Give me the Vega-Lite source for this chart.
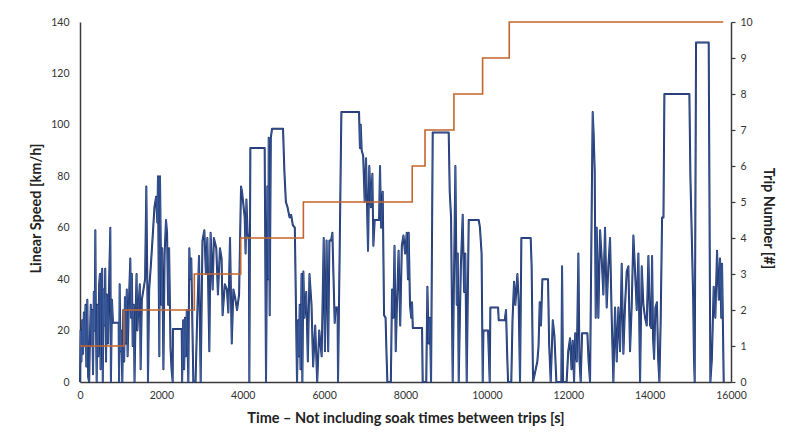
{
  "$schema": "https://vega.github.io/schema/vega-lite/v6.json",
  "width": 651,
  "height": 360,
  "autosize": {"type": "none"},
  "padding": {"left": 80, "top": 22, "right": 64, "bottom": 57},
  "background": "white",
  "config": {
    "view": {"stroke": null},
    "font": "Lato",
    "axis": {"grid": false, "labelFont": "Lato", "titleFont": "Lato", "labelColor": "#333333", "titleColor": "#222222", "domainColor": "#3a3a3a", "domainWidth": 1.5, "labelFontSize": 10.5, "titleFontSize": 14.5, "titleFontWeight": "bold"}
  },
  "datasets": {
    "speed": [
{"t":0,"v":0},{"t":15,"v":20},{"t":35,"v":8},{"t":55,"v":24},{"t":75,"v":11},{"t":95,"v":27},{"t":115,"v":14},{"t":135,"v":30},{"t":155,"v":6},{"t":180,"v":32},{"t":200,"v":2},{"t":225,"v":0},{"t":245,"v":18},{"t":265,"v":30},{"t":285,"v":14},{"t":300,"v":28},{"t":320,"v":3},{"t":340,"v":35},{"t":360,"v":20},{"t":377,"v":59},{"t":390,"v":25},{"t":410,"v":0},{"t":430,"v":30},{"t":450,"v":10},{"t":470,"v":38},{"t":490,"v":42},{"t":505,"v":5},{"t":520,"v":40},{"t":545,"v":44},{"t":560,"v":0},{"t":580,"v":36},{"t":600,"v":22},{"t":620,"v":44},{"t":640,"v":8},{"t":660,"v":34},{"t":690,"v":15},{"t":715,"v":38},{"t":745,"v":60},{"t":760,"v":0},{"t":785,"v":32},{"t":810,"v":23},{"t":950,"v":23},{"t":960,"v":0},{"t":975,"v":38},{"t":995,"v":12},{"t":1010,"v":20},{"t":1040,"v":0},{"t":1065,"v":28},{"t":1085,"v":8},{"t":1105,"v":33},{"t":1125,"v":15},{"t":1150,"v":36},{"t":1170,"v":10},{"t":1200,"v":30},{"t":1236,"v":48},{"t":1255,"v":25},{"t":1275,"v":42},{"t":1295,"v":14},{"t":1320,"v":30},{"t":1340,"v":0},{"t":1365,"v":25},{"t":1390,"v":42},{"t":1410,"v":20},{"t":1440,"v":30},{"t":1470,"v":38},{"t":1490,"v":5},{"t":1520,"v":32},{"t":1560,"v":36},{"t":1600,"v":40},{"t":1630,"v":76},{"t":1660,"v":30},{"t":1671,"v":0},{"t":1700,"v":36},{"t":1740,"v":45},{"t":1780,"v":55},{"t":1830,"v":68},{"t":1870,"v":72},{"t":1900,"v":62},{"t":1917,"v":80},{"t":1935,"v":40},{"t":1950,"v":10},{"t":1966,"v":80},{"t":1980,"v":60},{"t":2000,"v":30},{"t":2020,"v":52},{"t":2050,"v":5},{"t":2080,"v":50},{"t":2114,"v":63},{"t":2140,"v":58},{"t":2165,"v":30},{"t":2190,"v":52},{"t":2225,"v":13},{"t":2250,"v":5},{"t":2278,"v":0},{"t":2285,"v":20.6},{"t":2500,"v":20.6},{"t":2510,"v":0},{"t":2535,"v":24},{"t":2560,"v":5},{"t":2580,"v":25},{"t":2600,"v":10},{"t":2625,"v":28},{"t":2663,"v":0},{"t":2687,"v":52},{"t":2710,"v":40},{"t":2735,"v":48},{"t":2786,"v":0},{"t":2840,"v":0},{"t":2880,"v":25},{"t":2925,"v":49},{"t":2966,"v":0},{"t":3010,"v":55},{"t":3056,"v":59},{"t":3095,"v":42},{"t":3130,"v":56},{"t":3179,"v":12},{"t":3210,"v":58},{"t":3260,"v":36},{"t":3290,"v":56},{"t":3350,"v":52},{"t":3390,"v":34},{"t":3440,"v":52},{"t":3480,"v":48},{"t":3505,"v":26},{"t":3560,"v":38},{"t":3610,"v":36},{"t":3646,"v":27},{"t":3687,"v":56},{"t":3730,"v":15},{"t":3770,"v":36},{"t":3810,"v":33},{"t":3860,"v":28},{"t":3910,"v":34},{"t":3958,"v":76},{"t":3982,"v":74},{"t":4048,"v":64},{"t":4070,"v":50},{"t":4090,"v":71},{"t":4120,"v":58},{"t":4150,"v":55},{"t":4162,"v":0},{"t":4187,"v":91},{"t":4539,"v":91},{"t":4572,"v":0},{"t":4605,"v":76},{"t":4630,"v":40},{"t":4638,"v":95},{"t":4662,"v":26},{"t":4690,"v":95},{"t":4720,"v":98.5},{"t":4990,"v":98.5},{"t":5023,"v":82},{"t":5060,"v":70},{"t":5100,"v":68},{"t":5150,"v":64},{"t":5190,"v":65},{"t":5230,"v":61},{"t":5280,"v":60},{"t":5334,"v":0},{"t":5360,"v":24},{"t":5380,"v":10},{"t":5400,"v":30},{"t":5420,"v":5},{"t":5445,"v":42},{"t":5465,"v":0},{"t":5490,"v":43},{"t":5515,"v":25},{"t":5560,"v":35},{"t":5600,"v":8},{"t":5640,"v":42},{"t":5690,"v":30},{"t":5730,"v":6},{"t":5780,"v":22},{"t":5830,"v":0},{"t":5880,"v":20},{"t":5940,"v":10},{"t":5990,"v":56},{"t":6020,"v":12},{"t":6060,"v":55},{"t":6100,"v":12},{"t":6130,"v":55},{"t":6170,"v":55},{"t":6203,"v":58},{"t":6230,"v":41},{"t":6260,"v":23},{"t":6285,"v":29},{"t":6330,"v":29},{"t":6342,"v":0},{"t":6424,"v":105},{"t":6858,"v":105},{"t":6880,"v":91},{"t":6900,"v":100},{"t":6923,"v":90},{"t":6960,"v":88},{"t":6997,"v":70},{"t":7030,"v":87},{"t":7079,"v":51},{"t":7110,"v":84},{"t":7150,"v":68},{"t":7186,"v":81},{"t":7210,"v":53},{"t":7243,"v":63},{"t":7350,"v":63},{"t":7374,"v":84},{"t":7400,"v":60},{"t":7440,"v":74},{"t":7473,"v":26},{"t":7510,"v":25},{"t":7535,"v":10},{"t":7555,"v":0},{"t":7640,"v":0},{"t":7669,"v":36},{"t":7700,"v":25},{"t":7730,"v":53},{"t":7760,"v":12},{"t":7790,"v":30},{"t":7830,"v":51},{"t":7870,"v":22},{"t":7910,"v":53},{"t":7950,"v":57},{"t":7990,"v":50},{"t":8030,"v":58},{"t":8060,"v":40},{"t":8079,"v":58},{"t":8110,"v":30},{"t":8140,"v":25},{"t":8160,"v":31},{"t":8180,"v":21},{"t":8407,"v":21},{"t":8423,"v":0},{"t":8510,"v":0},{"t":8538,"v":37},{"t":8570,"v":15},{"t":8600,"v":25},{"t":8628,"v":0},{"t":8669,"v":97},{"t":9062,"v":97},{"t":9087,"v":74},{"t":9120,"v":64},{"t":9160,"v":0},{"t":9226,"v":84},{"t":9260,"v":30},{"t":9285,"v":50},{"t":9308,"v":0},{"t":9360,"v":45},{"t":9406,"v":65},{"t":9440,"v":35},{"t":9470,"v":50},{"t":9505,"v":0},{"t":9554,"v":63},{"t":9800,"v":63},{"t":9830,"v":60},{"t":9870,"v":50},{"t":9898,"v":0},{"t":9915,"v":20},{"t":10029,"v":20},{"t":10070,"v":0},{"t":10086,"v":29},{"t":10275,"v":29},{"t":10291,"v":24},{"t":10439,"v":24},{"t":10470,"v":28},{"t":10500,"v":10},{"t":10521,"v":0},{"t":10600,"v":0},{"t":10630,"v":24},{"t":10668,"v":39},{"t":10700,"v":30},{"t":10750,"v":42},{"t":10780,"v":32},{"t":10815,"v":0},{"t":10848,"v":56},{"t":11077,"v":56},{"t":11100,"v":45},{"t":11135,"v":0},{"t":11240,"v":8},{"t":11270,"v":14},{"t":11299,"v":31},{"t":11330,"v":22},{"t":11364,"v":40},{"t":11503,"v":40},{"t":11530,"v":15},{"t":11569,"v":0},{"t":11620,"v":24},{"t":11660,"v":18},{"t":11708,"v":0},{"t":11830,"v":0},{"t":11848,"v":45},{"t":11872,"v":0},{"t":11960,"v":0},{"t":12000,"v":12},{"t":12044,"v":17},{"t":12080,"v":5},{"t":12110,"v":16},{"t":12143,"v":0},{"t":12170,"v":19},{"t":12210,"v":8},{"t":12249,"v":50},{"t":12275,"v":9},{"t":12306,"v":0},{"t":12340,"v":19},{"t":12470,"v":19},{"t":12500,"v":8},{"t":12536,"v":0},{"t":12585,"v":82},{"t":12601,"v":105},{"t":12625,"v":96},{"t":12650,"v":82},{"t":12675,"v":25},{"t":12700,"v":60},{"t":12740,"v":25},{"t":12782,"v":59},{"t":12822,"v":48},{"t":12863,"v":34},{"t":12904,"v":60},{"t":12945,"v":29},{"t":12986,"v":45},{"t":13027,"v":56},{"t":13068,"v":25},{"t":13109,"v":0},{"t":13150,"v":29},{"t":13191,"v":8},{"t":13232,"v":29},{"t":13273,"v":12},{"t":13314,"v":46},{"t":13355,"v":11},{"t":13396,"v":30},{"t":13437,"v":43},{"t":13478,"v":45},{"t":13519,"v":12},{"t":13560,"v":30},{"t":13601,"v":57},{"t":13642,"v":43},{"t":13683,"v":28},{"t":13724,"v":50},{"t":13765,"v":0},{"t":13806,"v":45},{"t":13847,"v":30},{"t":13888,"v":25},{"t":13929,"v":22},{"t":13970,"v":49},{"t":14011,"v":22},{"t":14040,"v":21},{"t":14060,"v":49},{"t":14085,"v":17},{"t":14110,"v":9},{"t":14142,"v":29},{"t":14180,"v":31},{"t":14210,"v":9},{"t":14240,"v":0},{"t":14273,"v":25},{"t":14306,"v":64},{"t":14340,"v":64},{"t":14363,"v":112},{"t":14977,"v":112},{"t":15002,"v":80},{"t":15040,"v":54},{"t":15070,"v":33},{"t":15090,"v":9},{"t":15108,"v":0},{"t":15141,"v":132},{"t":15452,"v":132},{"t":15493,"v":0},{"t":15530,"v":9},{"t":15575,"v":37},{"t":15615,"v":25},{"t":15657,"v":51},{"t":15700,"v":32},{"t":15730,"v":48},{"t":15760,"v":25},{"t":15780,"v":46},{"t":15800,"v":24},{"t":15821,"v":0}
    ],
    "trips": [
      {"t": 0, "trip": 1}, {"t": 1080, "trip": 2}, {"t": 2810, "trip": 3}, {"t": 3950, "trip": 4}, {"t": 5490, "trip": 5}, {"t": 8165, "trip": 6}, {"t": 8480, "trip": 7}, {"t": 9190, "trip": 8}, {"t": 9895, "trip": 9}, {"t": 10550, "trip": 10}, {"t": 15810, "trip": 10}
    ]
  },
  "encoding": {
    "x": {"field": "t", "type": "quantitative", "scale": {"domain": [0, 16000], "nice": false},
      "axis": {"title": "Time – Not including soak times between trips [s]", "format": "d", "values": [0,2000,4000,6000,8000,10000,12000,14000,16000], "ticks": false, "labelPadding": 8, "titlePadding": 11, "labelFlush": false}}
  },
  "layer": [
    {
      "data": {"name": "speed"},
      "mark": {"type": "line", "color": "#1c2d63", "strokeWidth": 2, "strokeJoin": "round"},
      "encoding": {
        "y": {"field": "v", "type": "quantitative", "scale": {"domain": [0, 140], "nice": false},
          "axis": {"orient": "left", "title": "Linear Speed [km/h]", "values": [0,20,40,60,80,100,120,140], "ticks": false, "labelPadding": 11, "titlePadding": 7, "titleY": 186}}
      }
    },
    {
      "data": {"name": "speed"},
      "mark": {"type": "line", "color": "#4a74bd", "strokeWidth": 0.7, "strokeJoin": "round", "opacity": 0.8},
      "encoding": {
        "y": {"field": "v", "type": "quantitative", "scale": {"domain": [0, 140], "nice": false}, "axis": null}
      }
    },
    {
      "data": {"name": "trips"},
      "mark": {"type": "line", "interpolate": "step-after", "color": "#c4652e", "strokeWidth": 1.6},
      "encoding": {
        "y": {"field": "trip", "type": "quantitative", "scale": {"domain": [0, 10], "nice": false},
          "axis": {"orient": "right", "title": "Trip Number [#]", "values": [0,1,2,3,4,5,6,7,8,9,10], "ticks": true, "tickSize": 4, "tickColor": "#3a3a3a", "tickWidth": 1.2, "labelPadding": 5, "titlePadding": 8, "titleY": 196}}
      }
    }
  ],
  "resolve": {"scale": {"y": "independent"}}
}
